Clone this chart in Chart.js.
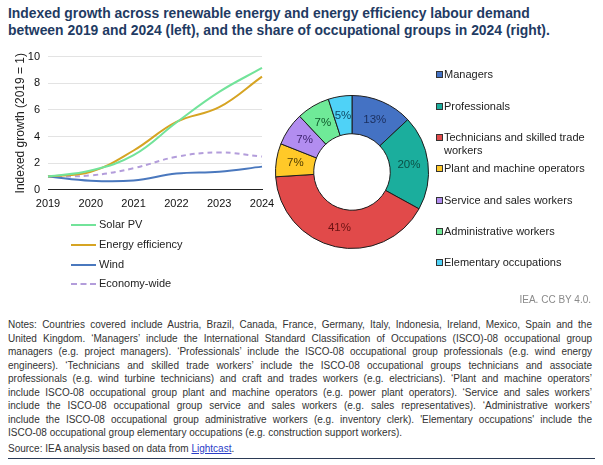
<!DOCTYPE html>
<html>
<head>
<meta charset="utf-8">
<script src="https://cdn.jsdelivr.net/npm/chart.js@4.4.1/dist/chart.umd.min.js"></script>
<style>
  html, body { margin:0; padding:0; background:#fff; }
  body { width:603px; height:465px; position:relative; overflow:hidden; font-family:"Liberation Sans", Arial, sans-serif; }
  .title { position:absolute; left:8px; top:5px; font-weight:bold; font-size:13.9px; line-height:17px; color:#1F3B63; white-space:nowrap; }
  #lineWrap { position:absolute; left:0; top:42px; width:290px; height:181px; }
  #pieWrap { position:absolute; left:272px; top:92px; width:160px; height:160px; }
  .lleg { position:absolute; left:71px; font-size:11px; color:#222; white-space:nowrap; }
  .lleg span.ln { display:inline-block; width:25px; height:0; vertical-align:middle; margin-right:3px; }
  .pleg { position:absolute; left:436px; font-size:11px; line-height:12.7px; color:#222; white-space:nowrap; }
  .pleg span.sq { position:absolute; left:0; top:3px; width:5px; height:5px; border:1px solid #333; }
  .pleg .tx { position:absolute; left:8px; top:0; }
  .credit { position:absolute; right:12px; top:294px; font-size:10px; color:#8a8a8a; }
  .notes { position:absolute; left:8px; top:318px; width:584px; font-size:10px; line-height:13.5px; color:#333; }
  .notes div { text-align:justify; text-align-last:justify; white-space:nowrap; }
  .notes div.last { text-align-last:left; }
  .src { margin-top:2px; }
  .src a { color:#2a3cc8; text-decoration:underline; }
  .rule { position:absolute; left:8px; top:458px; width:587px; height:0; border-top:1.5px solid #2b3a55; }
</style>
</head>
<body>
<div class="title">Indexed growth across renewable energy and energy efficiency labour demand<br>between 2019 and 2024 (left), and the share of occupational groups in 2024 (right).</div>
<div id="lineWrap"><canvas id="lineChart"></canvas></div>
<div id="lineLegend"></div>
<div id="pieWrap"><canvas id="pieChart"></canvas></div>
<div id="pieLegend"></div>
<div class="credit">IEA. CC BY 4.0.</div>
<div class="notes">
<div>Notes: Countries covered include Austria, Brazil, Canada, France, Germany, Italy, Indonesia, Ireland, Mexico, Spain and the</div>
<div>United Kingdom. ‘Managers’ include the International Standard Classification of Occupations (ISCO)-08 occupational group</div>
<div>managers (e.g. project managers). ‘Professionals’ include the ISCO-08 occupational group professionals (e.g. wind energy</div>
<div>engineers). ‘Technicians and skilled trade workers’ include the ISCO-08 occupational groups technicians and associate</div>
<div>professionals (e.g. wind turbine technicians) and craft and trades workers (e.g. electricians). ‘Plant and machine operators’</div>
<div>include ISCO-08 occupational group plant and machine operators (e.g. power plant operators). ‘Service and sales workers’</div>
<div>include the ISCO-08 occupational group service and sales workers (e.g. sales representatives). ‘Administrative workers’</div>
<div>include the ISCO-08 occupational group administrative workers (e.g. inventory clerk). 'Elementary occupations' include the</div>
<div class="last">ISCO-08 occupational group elementary occupations (e.g. construction support workers).</div>
<div class="last src">Source: IEA analysis based on data from <a>Lightcast</a>.</div>
</div>
<div class="rule"></div>
<script>
// ---- Data ----
const years = ["2019", "2020", "2021", "2022", "2023", "2024"];
const solarPV = [1, 1.45, 2.6, 5.05, 7.35, 9.15];
const energyEfficiency = [1, 1.35, 2.95, 5.1, 6.2, 8.5];
const wind = [1, 0.68, 0.7, 1.22, 1.36, 1.74];
const economyWide = [1, 1.08, 1.62, 2.48, 2.8, 2.5];
const yTicks = [0, 2, 4, 6, 8, 10];

const occupations = ["Managers", "Professionals", "Technicians and skilled trade workers", "Plant and machine operators", "Service and sales workers", "Administrative workers", "Elementary occupations"];
const shares = [13, 20, 41, 7, 7, 7, 5];

// ---- Styles ----
const lineSeries = [
  { label: "Solar PV", data: solarPV, color: "#72E39A", dash: [] },
  { label: "Energy efficiency", data: energyEfficiency, color: "#D6A423", dash: [] },
  { label: "Wind", data: wind, color: "#4A78BE", dash: [] },
  { label: "Economy-wide", data: economyWide, color: "#B39DDB", dash: [5, 4] }
];
const pieColors = ["#4472C4", "#1BAE9D", "#E14A4A", "#FFC928", "#B28DF0", "#6FEA98", "#4FD2F7"];
const pieLabelColors = ["#1B2F5E", "#0B4F45", "#6B1212", "#4D3B00", "#3F2370", "#0F5A2B", "#0E4A66"];
const pieLegendLines = ["Managers", "Professionals", "Technicians and skilled trade<br>workers", "Plant and machine operators", "Service and sales workers", "Administrative workers", "Elementary occupations"];
const pieLegendTops = [68, 100, 131, 162, 194, 225, 256];
const lineLegendTops = [218, 238, 258, 277];

const FONT = "'Liberation Sans', Arial, sans-serif";
Chart.defaults.font.family = FONT;
Chart.defaults.color = "#222";

new Chart(document.getElementById("lineChart"), {
  type: "line",
  data: {
    labels: years,
    datasets: lineSeries.map(s => ({
      label: s.label, data: s.data, borderColor: s.color, backgroundColor: s.color,
      borderWidth: 2, borderDash: s.dash, pointRadius: 0, tension: 0.4, fill: false
    }))
  },
  options: {
    responsive: true, maintainAspectRatio: false, animation: false,
    layout: { padding: { top: 11, right: 28, bottom: 4, left: 0 } },
    plugins: { legend: { display: false }, tooltip: { enabled: false } },
    scales: {
      x: {
        grid: { display: false, drawTicks: false },
        border: { display: true, color: "#222", width: 1 },
        ticks: { padding: 8, font: { size: 11 }, color: "#111", maxRotation: 0 }
      },
      y: {
        min: 0, max: 10,
        afterBuildTicks: (scale) => { scale.ticks = yTicks.map(v => ({ value: v })); },
        afterFit: (scale) => { scale.width = 48; },
        grid: { color: "#e3e3e3", drawTicks: false },
        border: { display: false },
        ticks: { padding: 8, font: { size: 11 }, color: "#111" },
        title: { display: true, text: "Indexed growth (2019 = 1)", font: { size: 12 }, color: "#222", padding: { top: 13, bottom: 0 } }
      }
    }
  }
});

// line legend
const ll = document.getElementById("lineLegend");
lineSeries.forEach((s, i) => {
  const d = document.createElement("div");
  d.className = "lleg";
  d.style.top = lineLegendTops[i] + "px";
  const border = s.dash.length ? "2px dashed " + s.color : "2px solid " + s.color;
  d.innerHTML = '<span class="ln" style="border-top:' + border + '"></span>' + s.label;
  ll.appendChild(d);
});

// pie labels plugin
const pieLabels = {
  id: "pieLabels",
  afterDatasetsDraw(chart) {
    const ctx = chart.ctx;
    const meta = chart.getDatasetMeta(0);
    ctx.save();
    ctx.font = "11.5px " + FONT;
    ctx.textAlign = "center";
    ctx.textBaseline = "middle";
    meta.data.forEach((arc, i) => {
      const p = arc.tooltipPosition();
      ctx.fillStyle = pieLabelColors[i];
      ctx.fillText(shares[i] + "%", p.x, p.y);
    });
    ctx.restore();
  }
};

new Chart(document.getElementById("pieChart"), {
  type: "doughnut",
  data: {
    labels: occupations,
    datasets: [{ data: shares, backgroundColor: pieColors, borderColor: "#1d1d1d", borderWidth: 1 }]
  },
  options: {
    responsive: true, maintainAspectRatio: false, animation: false,
    cutout: "50%",
    layout: { padding: 3 },
    plugins: { legend: { display: false }, tooltip: { enabled: false } }
  },
  plugins: [pieLabels]
});

// pie legend
const pl = document.getElementById("pieLegend");
occupations.forEach((o, i) => {
  const d = document.createElement("div");
  d.className = "pleg";
  d.style.top = pieLegendTops[i] + "px";
  d.innerHTML = '<span class="sq" style="background:' + pieColors[i] + '"></span><span class="tx">' + pieLegendLines[i] + '</span>';
  pl.appendChild(d);
});
</script>
</body>
</html>
